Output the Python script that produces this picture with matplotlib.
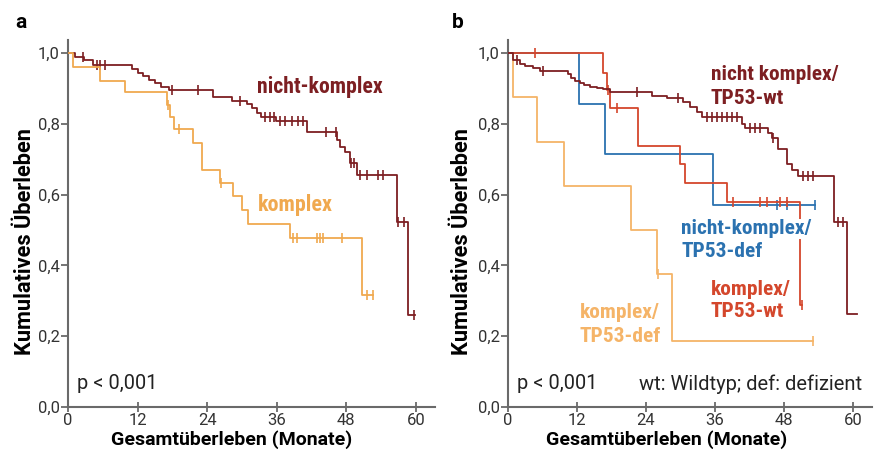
import matplotlib
matplotlib.use("Agg")
import matplotlib.pyplot as plt
import matplotlib.font_manager as fm
import numpy as np
import glob, os

allfiles = set(f.fname for f in fm.fontManager.ttflist)
for ext in ('ttf', 'otf', 'TTF'):
    allfiles.update(glob.glob('/usr/share/fonts/**/*.' + ext, recursive=True))
    allfiles.update(glob.glob('/usr/local/share/fonts/**/*.' + ext, recursive=True))
byname = {os.path.basename(p).lower(): p for p in allfiles}


def pick(cands, fallback_weight):
    for r, b in cands:
        if r in byname and b in byname:
            return fm.FontProperties(fname=byname[r]), fm.FontProperties(fname=byname[b])
    return (fm.FontProperties(family='DejaVu Sans'),
            fm.FontProperties(family='DejaVu Sans', weight='bold'))


COND_R, COND_B = pick([('robotocondensed-regular.ttf', 'robotocondensed-bold.ttf'),
                       ('liberationsansnarrow-regular.ttf', 'liberationsansnarrow-bold.ttf'),
                       ('dejavusanscondensed.ttf', 'dejavusanscondensed-bold.ttf')], 'bold')
NORM_R, NORM_B = pick([('roboto-regular.ttf', 'roboto-bold.ttf'),
                       ('opensans-regular.ttf', 'opensans-bold.ttf'),
                       ('dejavusans.ttf', 'dejavusans-bold.ttf')], 'bold')

# ---------------- data ----------------
x_ticks = [0, 12, 24, 36, 48, 60]
y_ticks = [0.0, 0.2, 0.4, 0.6, 0.8, 1.0]
y_ticklabels = ["0,0", "0,2", "0,4", "0,6", "0,8", "1,0"]

# Panel a: nicht-komplex
a_nk_times = [0, 1.2, 2.8, 4.3, 11.0, 12.0, 13.0, 14.0, 15.0, 16.0, 17.5, 25.0, 28.3,
              30.9, 31.8, 32.6, 33.3, 35.8, 41.2, 46.4, 47.0, 47.8, 48.6, 49.8, 56.7, 58.6]
a_nk_surv = [1.0, 0.99, 0.98, 0.966, 0.955, 0.945, 0.935, 0.925, 0.915, 0.905, 0.895, 0.877, 0.865,
             0.855, 0.845, 0.832, 0.82, 0.808, 0.777, 0.755, 0.735, 0.72, 0.69, 0.655, 0.523, 0.26]
a_nk_censor = [2.6, 5.0, 5.6, 6.4, 17.9, 22.4, 29.7, 34.0, 34.8, 35.5, 36.5, 37.5, 38.6, 39.6, 40.5,
               44.5, 46.2, 48.8, 49.3, 50.3, 51.5, 53.5, 54.3, 57.0, 58.0, 59.6]
a_nk_end = 59.8

# Panel a: komplex
a_k_times = [0, 0.9, 5.5, 9.8, 17.0, 17.6, 18.3, 21.6, 23.1, 26.2, 28.5, 30.0, 31.0, 38.3, 50.7]
a_k_surv = [1.0, 0.96, 0.92, 0.89, 0.853, 0.82, 0.785, 0.746, 0.67, 0.633, 0.596, 0.557, 0.517, 0.477, 0.316]
a_k_censor = [17.3, 19.1, 26.4, 38.8, 39.5, 42.9, 43.4, 44.0, 47.2, 51.5, 52.6]
a_k_end = 52.6

# Panel b: nicht komplex / TP53-wt
b_nkwt_times = [0, 0.9, 2.1, 3.0, 4.4, 5.6, 10.4, 11.0, 11.6, 12.5, 13.2, 14.3, 15.5, 16.5, 17.8,
                25.0, 27.6, 30.5, 31.7, 32.9, 33.7, 40.7, 41.2, 45.2, 45.9, 47.0, 48.5, 49.4, 50.4,
                56.7, 59.0]
b_nkwt_surv = [1.0, 0.98, 0.97, 0.964, 0.957, 0.95, 0.94, 0.93, 0.92, 0.915, 0.91, 0.905, 0.9, 0.898, 0.89,
               0.88, 0.872, 0.862, 0.847, 0.833, 0.82, 0.8, 0.788, 0.774, 0.76, 0.73, 0.688, 0.67, 0.652,
               0.523, 0.262]
b_nkwt_censor = [1.6, 6.1, 22.4, 29.6, 34.6, 35.5, 36.4, 37.2, 38.1, 38.9, 39.8, 42.1, 43.0, 43.8,
                 46.0, 51.3, 52.1, 53.0, 57.4, 58.3]
b_nkwt_end = 60.7

# Panel b: komplex / TP53-wt
b_kwt_times = [0, 16.5, 17.2, 17.8, 22.6, 29.9, 30.8, 38.0, 50.8]
b_kwt_surv = [1.0, 0.943, 0.895, 0.845, 0.737, 0.686, 0.633, 0.58, 0.288]
b_kwt_censor = [4.7, 17.4, 18.9, 39.1, 43.8, 45.0, 47.3, 48.5, 51.1]
b_kwt_end = 51.1

# Panel b: nicht-komplex / TP53-def
b_nkdef_times = [0, 12.3, 16.9, 35.7]
b_nkdef_surv = [1.0, 0.857, 0.714, 0.571]
b_nkdef_censor = [46.8, 48.5, 53.4]
b_nkdef_end = 53.4

# Panel b: komplex / TP53-def
b_kdef_times = [0, 0.8, 5.0, 9.8, 21.4, 25.9, 28.5]
b_kdef_surv = [1.0, 0.875, 0.75, 0.625, 0.5, 0.375, 0.1875]
b_kdef_censor = [26.0, 53.0]
b_kdef_end = 53.0

# ---------------- style ----------------
C_DARK = '#7d1f22'
C_ORA = '#f0a94f'
C_LORA = '#f5b468'
C_BLUE = '#2b72b0'
C_RED = '#d4472c'
C_AX = '#6a6a6a'

fig = plt.figure(figsize=(8.8, 4.62), dpi=100)
ax_a = fig.add_axes([68/880, 55/462, 367/880, 367/462])
ax_b = fig.add_axes([508/880, 55/462, 364/880, 367/462])
renderer = fig.canvas.get_renderer()


def fp(base, size):
    p = base.copy()
    p.set_size(size)
    return p


def fit(t, length_px, vertical=False):
    """scale the font size of text t so that its rendered length is length_px"""
    e = t.get_window_extent(renderer)
    w = e.height if vertical else e.width
    t.set_fontsize(t.get_fontsize() * length_px / w)
    return t


def km(ax, times, surv, censor, end, color):
    t = list(times) + [end]
    s = list(surv) + [surv[-1]]
    ax.step(t, s, where='post', color=color, lw=1.3, zorder=3)
    ct = np.asarray(censor)
    idx = np.searchsorted(np.asarray(times), ct, side='right') - 1
    cs = np.asarray(surv)[idx]
    ax.plot(ct, cs, ls='none', marker='|', ms=7, mew=1.2, color=color, zorder=3)


ylab_x = {0: -0.118, 1: -0.127}
xlab_x = {0: 0.447, 1: 0.437}
for i, ax in enumerate((ax_a, ax_b)):
    ax.set_xlim(0, 63.3)
    ax.set_ylim(0, 1.037)
    for s in ('top', 'right'):
        ax.spines[s].set_visible(False)
    for s in ('left', 'bottom'):
        ax.spines[s].set_color(C_AX)
        ax.spines[s].set_linewidth(1.5)
    ax.set_xticks(x_ticks)
    ax.set_xticklabels([str(v) for v in x_ticks], fontproperties=fp(NORM_R, 12), color='#333333')
    ax.set_yticks(y_ticks)
    ax.set_yticklabels(y_ticklabels, fontproperties=fp(NORM_R, 12), color='#333333')
    ax.tick_params(axis='x', direction='inout', length=7, width=1.3, color=C_AX, pad=1)
    ax.tick_params(axis='y', direction='out', length=5, width=1.3, color=C_AX, pad=1)
    xl = ax.set_xlabel('Gesamtüberleben (Monate)', fontproperties=fp(NORM_B, 13.5))
    yl = ax.set_ylabel('Kumulatives Überleben', fontproperties=fp(NORM_B, 13.5))
    fit(xl, 240)
    fit(yl, 227, vertical=True)
    xl.set_va('center')
    yl.set_va('center')
    ax.xaxis.set_label_coords(xlab_x[i], -0.09)
    ax.yaxis.set_label_coords(ylab_x[i], 0.452)
    fit(ax.text(1.5, 0.065, 'p < 0,001', fontproperties=fp(NORM_R, 13), color='#222222',
                va='center', ha='left'), 80)

# Panel a
km(ax_a, a_nk_times, a_nk_surv, a_nk_censor, a_nk_end, C_DARK)
km(ax_a, a_k_times, a_k_surv, a_k_censor, a_k_end, C_ORA)
fit(ax_a.text(32.6, 0.905, 'nicht-komplex', color=C_DARK, fontproperties=fp(COND_B, 14), va='center'), 126)
fit(ax_a.text(32.8, 0.57, 'komplex', color=C_ORA, fontproperties=fp(COND_B, 14), va='center'), 75)

# Panel b
km(ax_b, b_kdef_times, b_kdef_surv, b_kdef_censor, b_kdef_end, C_LORA)
km(ax_b, b_nkdef_times, b_nkdef_surv, b_nkdef_censor, b_nkdef_end, C_BLUE)
km(ax_b, b_kwt_times, b_kwt_surv, b_kwt_censor, b_kwt_end, C_RED)
km(ax_b, b_nkwt_times, b_nkwt_surv, b_nkwt_censor, b_nkwt_end, C_DARK)

bb = dict(facecolor='white', edgecolor='none', pad=0.5)
lab = dict(va='center', ha='left', zorder=5)
t1 = fit(ax_b.text(35.3, 0.94, 'nicht komplex/', color=C_DARK, fontproperties=fp(COND_B, 14), **lab), 128)
LS = t1.get_fontsize()
ax_b.text(35.3, 0.873, 'TP53-wt', color=C_DARK, fontproperties=fp(COND_B, LS), **lab)
ax_b.text(30.1, 0.503, 'nicht-komplex/', color=C_BLUE, bbox=bb, fontproperties=fp(COND_B, LS), **lab)
ax_b.text(30.1, 0.438, 'TP53-def', color=C_BLUE, bbox=bb, fontproperties=fp(COND_B, LS), **lab)
ax_b.text(35.3, 0.333, 'komplex/', color=C_RED, fontproperties=fp(COND_B, LS), **lab)
ax_b.text(35.3, 0.271, 'TP53-wt', color=C_RED, fontproperties=fp(COND_B, LS), **lab)
ax_b.text(12.5, 0.268, 'komplex/', color=C_LORA, fontproperties=fp(COND_B, LS), **lab)
ax_b.text(12.5, 0.2, 'TP53-def', color=C_LORA, fontproperties=fp(COND_B, LS), **lab)
fit(ax_b.text(61.6, 0.065, 'wt: Wildtyp; def: defizient', fontproperties=fp(NORM_R, 13), color='#222222',
              va='center', ha='right'), 222)

fig.text(15/880, 1 - 23/462, 'a', fontproperties=fp(NORM_B, 15), va='center', ha='left')
fig.text(452/880, 1 - 23/462, 'b', fontproperties=fp(NORM_B, 15), va='center', ha='left')

fig.savefig('out.png', dpi=100)
